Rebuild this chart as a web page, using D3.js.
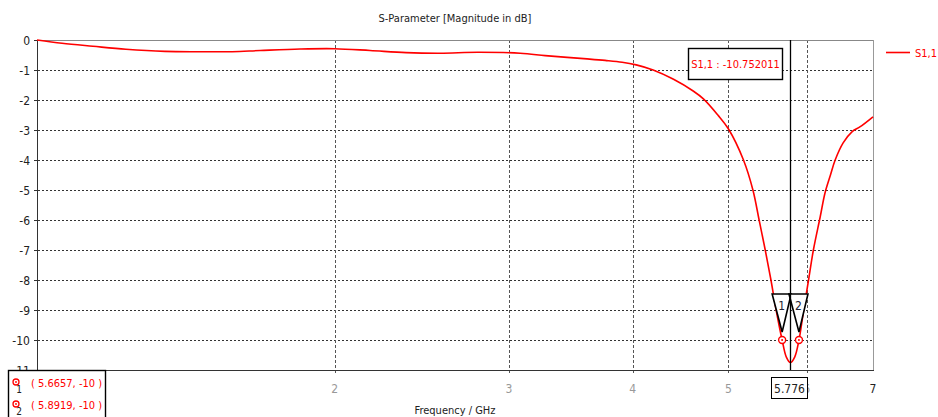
<!DOCTYPE html>
<html>
<head>
<meta charset="utf-8">
<script src="https://cdn.jsdelivr.net/npm/d3@7"></script>
<style>
  html, body { margin: 0; padding: 0; background: #fff; }
  svg { display: block; font-family: "DejaVu Sans Condensed", "Liberation Sans", sans-serif; }
</style>
</head>
<body>
<svg id="chart" width="938" height="417"></svg>
<script>
// S11 magnitude (dB) versus frequency (GHz)
const freqGHz = [1.00, 1.06, 1.139, 1.23, 1.347, 1.461, 1.575, 1.681, 1.845, 2.0,
  2.171, 2.361, 2.556, 2.79, 3.079, 3.264, 3.435, 3.598, 3.752, 3.904,
  4.034, 4.196, 4.4, 4.606, 4.72, 4.878, 4.997, 5.178, 5.293, 5.37, 5.447,
  5.52, 5.587, 5.6657, 5.72, 5.776, 5.835, 5.8919, 5.957, 6.025, 6.093,
  6.19, 6.26, 6.34, 6.41, 6.53, 6.665, 6.795, 7.0];
const s11dB = [0, -0.11, -0.21, -0.31, -0.38, -0.39, -0.39, -0.35, -0.30, -0.29,
  -0.35, -0.42, -0.44, -0.41, -0.44, -0.52, -0.58, -0.63, -0.68, -0.74,
  -0.83, -1.0, -1.31, -1.7, -1.97, -2.5, -2.95, -4.0, -5.0, -6.0, -7.0,
  -8.0, -9.0, -10, -10.56, -10.752011, -10.56, -10, -9.0, -8.0, -7.0,
  -5.9, -5.1, -4.5, -4.0, -3.43, -3.06, -2.89, -2.56];

const xTicks = [2, 3, 4, 5, 6, 7];
const yTicks = [0, -1, -2, -3, -4, -5, -6, -7, -8, -9, -10, -11];
const gridY = [-1, -2, -3, -4, -5, -6, -7, -8, -9, -10];
const gridX = [2, 3, 4, 5, 6];

// threshold markers and the movable marker
const markerIds = ["1", "2"];
const markerFreq = [5.6657, 5.8919];
const markerLevel = [-10, -10];
const cursorFreq = 5.776;
const cursorValue = -10.752011;
const seriesName = "S1,1";

const svg = d3.select("#chart");
const x = d3.scaleLog().domain([1, 7]).range([37, 873]);
const y = d3.scaleLinear().domain([-11, 0]).range([370, 40]);
const [x0, x1] = x.range();
const [yb, yt] = y.range();
const red = "#ff0000";

// title
svg.append("text").attr("x", (x0 + x1) / 2).attr("y", 22).attr("text-anchor", "middle")
  .attr("font-size", 11).attr("fill", "#222").text("S-Parameter [Magnitude in dB]");

// grid
svg.append("g").selectAll("line").data(gridY).join("line")
  .attr("x1", x0 - 3).attr("x2", x1).attr("y1", d => y(d) + 0.5).attr("y2", d => y(d) + 0.5)
  .attr("stroke", "#333").attr("stroke-dasharray", "2,2");
svg.append("g").selectAll("line").data(gridX).join("line")
  .attr("x1", d => Math.round(x(d)) + 0.5).attr("x2", d => Math.round(x(d)) + 0.5)
  .attr("y1", yt).attr("y2", yb + 5)
  .attr("stroke", "#555").attr("stroke-dasharray", "3,2");

// frame
svg.append("line").attr("x1", x0).attr("x2", x1).attr("y1", yt + 0.5).attr("y2", yt + 0.5)
  .attr("stroke", "#888");
svg.append("line").attr("x1", x1 + 0.5).attr("x2", x1 + 0.5).attr("y1", yt).attr("y2", yb)
  .attr("stroke", "#999");
svg.append("line").attr("x1", x0 + 0.5).attr("x2", x0 + 0.5).attr("y1", yt).attr("y2", yb)
  .attr("stroke", "#333");
svg.append("line").attr("x1", x0).attr("x2", x1 + 1).attr("y1", yb + 0.5).attr("y2", yb + 0.5)
  .attr("stroke", "#333");

// y tick labels
svg.append("g").selectAll("text").data(yTicks).join("text")
  .attr("x", 30).attr("y", d => y(d) + 4.5).attr("text-anchor", "end")
  .attr("font-size", 12).attr("fill", "#222").text(d => d);
// y tick marks
svg.append("g").selectAll("line").data(yTicks).join("line")
  .attr("x1", x0 - 3).attr("x2", x0).attr("y1", d => y(d) + 0.5).attr("y2", d => y(d) + 0.5)
  .attr("stroke", "#333");

// x tick labels
svg.append("g").selectAll("text").data(xTicks).join("text")
  .attr("x", d => x(d)).attr("y", 393).attr("text-anchor", "middle")
  .attr("font-size", 12).attr("fill", d => d === 7 ? "#222" : "#999").text(d => d);

// x axis title
svg.append("text").attr("x", (x0 + x1) / 2).attr("y", 414).attr("text-anchor", "middle")
  .attr("font-size", 11).attr("fill", "#222").text("Frequency / GHz");

// curve
const pts = freqGHz.map((f, i) => [x(f), y(s11dB[i])]);
svg.append("path").attr("d", d3.line().curve(d3.curveCatmullRom.alpha(0.5))(pts))
  .attr("fill", "none").attr("stroke", red).attr("stroke-width", 1.6);

// marker triangles and circles on the curve
const mk = svg.append("g");
markerFreq.forEach((f, i) => {
  const mx = x(f), my = y(markerLevel[i]);
  const tipY = my - 8, topY = my - 46;
  mk.append("path").attr("d", `M${mx - 10},${topY}L${mx + 9},${topY}L${mx},${tipY}Z`)
    .attr("fill", "#fff").attr("stroke", "#000").attr("stroke-width", 1.6).attr("stroke-linejoin", "miter");
  mk.append("text").attr("x", mx - 0.5).attr("y", topY + 16).attr("text-anchor", "middle")
    .attr("font-size", 12).attr("fill", "#223").text(markerIds[i]);
  mk.append("circle").attr("cx", mx).attr("cy", my).attr("r", 3.5)
    .attr("fill", "#fff").attr("stroke", red).attr("stroke-width", 1.4);
  mk.append("circle").attr("cx", mx).attr("cy", my).attr("r", 1).attr("fill", red);
});

// cursor line
const cx = Math.round(x(cursorFreq)) + 0.5;
svg.append("line").attr("x1", cx).attr("x2", cx).attr("y1", yt).attr("y2", yb)
  .attr("stroke", "#000").attr("stroke-width", 1.3);

// cursor value box
const vb = svg.append("g");
vb.append("rect").attr("x", 688.5).attr("y", 48.5).attr("width", 94).attr("height", 31)
  .attr("fill", "#fff").attr("stroke", "#000").attr("stroke-width", 1.4);
vb.append("text").attr("x", 735.5).attr("y", 68).attr("text-anchor", "middle")
  .attr("font-size", 11).attr("fill", red).text(`${seriesName} : ${cursorValue}`);

// cursor frequency box
const fb = svg.append("g");
fb.append("rect").attr("x", cx - 19).attr("y", 377.5).attr("width", 36).attr("height", 21)
  .attr("fill", "#fff").attr("stroke", "#000").attr("stroke-width", 1);
fb.append("text").attr("x", cx - 1).attr("y", 393).attr("text-anchor", "middle")
  .attr("font-size", 12).attr("fill", "#222").text(cursorFreq);

// legend
svg.append("line").attr("x1", 886).attr("x2", 910).attr("y1", 52.5).attr("y2", 52.5)
  .attr("stroke", red).attr("stroke-width", 1.6);
svg.append("text").attr("x", 915).attr("y", 57).attr("font-size", 11).attr("fill", red).text(seriesName);

// marker readout box
const rb = svg.append("g");
rb.append("rect").attr("x", 8.5).attr("y", 370.5).attr("width", 97).attr("height", 60)
  .attr("fill", "#fff").attr("stroke", "#000").attr("stroke-width", 1.4);
markerFreq.forEach((f, i) => {
  const ry = 382 + i * 22;
  rb.append("circle").attr("cx", 16).attr("cy", ry).attr("r", 3)
    .attr("fill", "#fff").attr("stroke", red).attr("stroke-width", 1.3);
  rb.append("circle").attr("cx", 16).attr("cy", ry).attr("r", 0.9).attr("fill", red);
  rb.append("text").attr("x", 19).attr("y", ry + 11).attr("text-anchor", "middle")
    .attr("font-size", 10).attr("fill", "#222").text(markerIds[i]);
  rb.append("text").attr("x", 31).attr("y", ry + 5).attr("font-size", 11).attr("fill", red)
    .text(`( ${f}, ${markerLevel[i]} )`);
});
</script>
</body>
</html>
